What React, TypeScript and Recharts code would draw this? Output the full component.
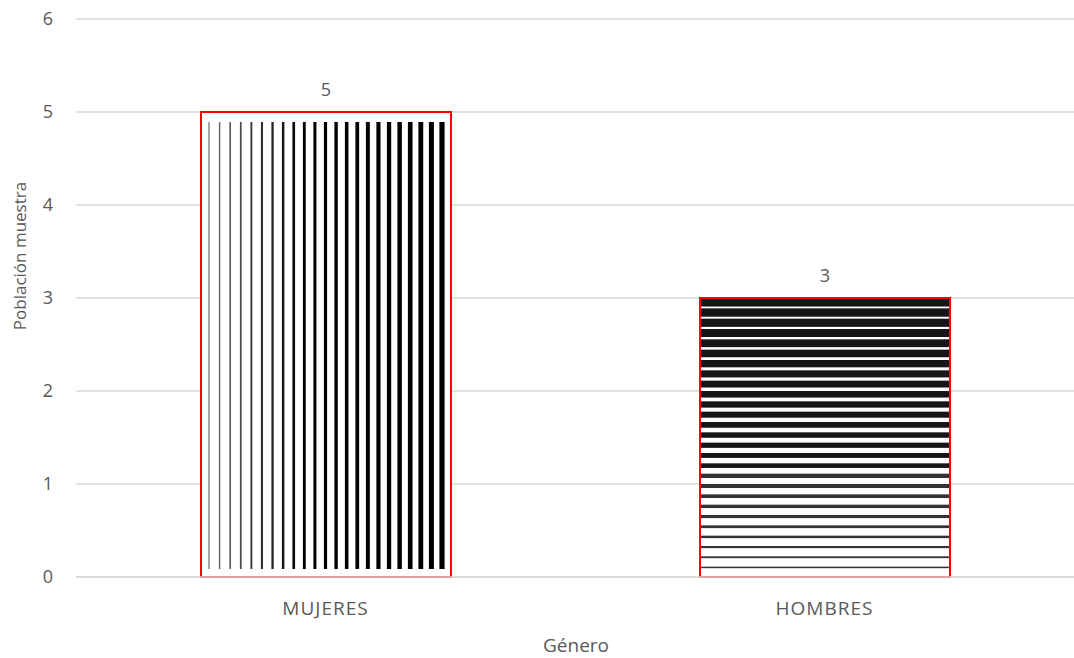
import { BarChart, Bar, XAxis, YAxis, CartesianGrid, LabelList } from "recharts";

const categories = ["MUJERES", "HOMBRES"];
const counts = [5, 3];
const yTicks = [0, 1, 2, 3, 4, 5, 6];

// stripe settings for each bar's fill
const VERTICAL_STRIPES = 23;
const HORIZONTAL_STRIPES = 27;

const data = categories.map((genero, i) => ({ genero, poblacion: counts[i] }));

const FONT = "'Open Sans', sans-serif";
const TEXT = "#595959";
const GRID = "#d9d9d9";

function grey(t: number) {
  const v = Math.round(110 * (1 - t));
  return `rgb(${v},${v},${v})`;
}

function StripedBar(props: any) {
  const { x, y, width, height, index } = props;
  const stripes: JSX.Element[] = [];

  if (index === 0) {
    // vertical bars getting thicker to the right
    const start = x + 8;
    const end = x + width - 9;
    const step = (end - start) / (VERTICAL_STRIPES - 1);
    for (let i = 0; i < VERTICAL_STRIPES; i++) {
      const t = i / (VERTICAL_STRIPES - 1);
      const w = 1.2 + t * 4;
      stripes.push(
        <rect
          key={i}
          x={start + i * step - w / 2}
          y={y + 10}
          width={w}
          height={Math.max(0, height - 18)}
          fill={grey(Math.min(1, t * 2.5))}
        />
      );
    }
  } else {
    // horizontal bands thinning towards the bottom
    const step = height / HORIZONTAL_STRIPES;
    for (let i = 0; i < HORIZONTAL_STRIPES; i++) {
      const t = i / (HORIZONTAL_STRIPES - 1);
      const h = step - 1.8 - Math.pow(t, 1.2) * (step - 3.3);
      stripes.push(
        <rect
          key={i}
          x={x}
          y={y + i * step}
          width={width}
          height={h}
          fill={t < 0.65 ? "#161616" : "#333"}
        />
      );
    }
  }

  return (
    <g>
      <rect x={x} y={y} width={width} height={height} fill="#fff" />
      {stripes}
      <rect x={x} y={y} width={width} height={height} fill="none" stroke="#ff0000" strokeWidth={2} />
    </g>
  );
}

export default function App() {
  return (
    <div style={{ position: "absolute", left: 0, top: 0, background: "#fff" }}>
      <BarChart
        width={1074}
        height={658}
        data={data}
        margin={{ top: 19, right: 0, bottom: 0, left: 0 }}
        style={{ fontFamily: FONT }}
      >
        <CartesianGrid vertical={false} stroke={GRID} strokeWidth={1.5} />
        <XAxis
          dataKey="genero"
          height={81}
          axisLine={{ stroke: GRID, strokeWidth: 1.5 }}
          tickLine={false}
          tickMargin={19}
          tick={{ fill: TEXT, fontSize: 19, fontFamily: FONT, letterSpacing: 1 }}
          label={{
            content: () => (
              <text
                x={576}
                y={645}
                textAnchor="middle"
                dominantBaseline="central"
                fill={TEXT}
                fontSize={19}
                fontFamily={FONT}
              >
                Género
              </text>
            ),
          }}
        />
        <YAxis
          width={76}
          domain={[0, 6]}
          ticks={yTicks}
          axisLine={false}
          tickLine={false}
          tickMargin={17}
          tick={{ fill: TEXT, fontSize: 18, fontFamily: FONT }}
          label={{
            content: () => (
              <text
                transform="translate(19,256) rotate(-90)"
                textAnchor="middle"
                dominantBaseline="central"
                fill={TEXT}
                fontSize={17}
                fontFamily={FONT}
              >
                Población muestra
              </text>
            ),
          }}
        />
        <Bar
          dataKey="poblacion"
          barSize={250}
          isAnimationActive={false}
          shape={(p: any) => <StripedBar {...p} />}
        >
          <LabelList
            dataKey="poblacion"
            position="top"
            offset={16}
            fill={TEXT}
            fontSize={18}
            fontFamily={FONT}
          />
        </Bar>
      </BarChart>
    </div>
  );
}
